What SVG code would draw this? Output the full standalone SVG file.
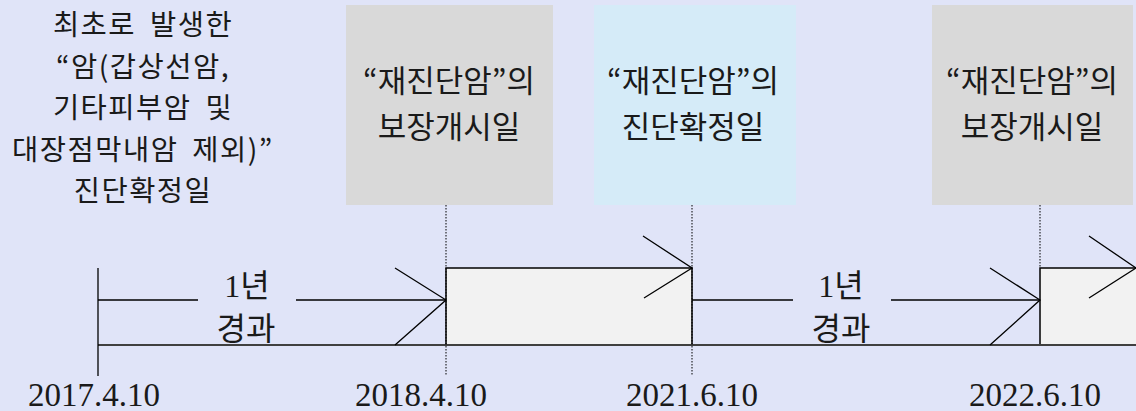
<svg xmlns="http://www.w3.org/2000/svg" width="1136" height="411" viewBox="0 0 1136 411">
<defs>
<style>
.bg{fill:#E0E4F8}
.gray{fill:#D9D9D9}
.blue{fill:#D5EBF8}
.bar{fill:#F2F2F2;stroke:#000;stroke-width:1.5}
.ln{stroke:#000;stroke-width:1.3;fill:none}
.base{stroke:#404040;stroke-width:2;fill:none}
.dot{stroke:#000;stroke-width:1;stroke-dasharray:1.5,1.5;fill:none}
.ko{font-family:"Noto Sans CJK KR","Noto Sans",sans-serif;font-size:31px;fill:#1a1a1a;text-anchor:middle}
.left{font-family:"Noto Sans CJK KR","Noto Sans",sans-serif;font-size:28.5px;letter-spacing:1.5px;fill:#1a1a1a;text-anchor:middle}
.se{font-family:"Liberation Serif","Noto Sans CJK KR",serif;font-size:32px;fill:#1a1a1a;text-anchor:middle}
.dt{font-family:"Liberation Serif",serif;font-size:33px;fill:#1a1a1a;text-anchor:middle}
</style>
</defs>
<rect class="bg" x="0" y="0" width="1136" height="411"/>

<g id="node-first-diagnosis">
<text class="left" x="143" y="35" word-spacing="6">최초로 발생한</text>
<text class="left" x="143" y="76.5">“암(갑상선암,</text>
<text class="left" x="143" y="118" word-spacing="6">기타피부암 및</text>
<text class="left" x="143" y="159.5" word-spacing="6">대장점막내암 제외)”</text>
<text class="left" x="143" y="201">진단확정일</text>
</g>

<g id="node-coverage-start-1">
<rect class="gray" x="346" y="5" width="207" height="200"/>
<text class="ko" x="449" y="92">“재진단암”의</text>
<text class="ko" x="449" y="138">보장개시일</text>
</g>

<g id="node-rediagnosis">
<rect class="blue" x="594" y="5" width="202" height="200"/>
<text class="ko" x="693" y="92">“재진단암”의</text>
<text class="ko" x="693" y="138">진단확정일</text>
</g>

<g id="node-coverage-start-2">
<rect class="gray" x="932" y="5" width="201" height="200"/>
<text class="ko" x="1032" y="92">“재진단암”의</text>
<text class="ko" x="1032" y="138">보장개시일</text>
</g>

<g id="node-bar-1">
<rect class="bar" x="446" y="268" width="246" height="77"/>
</g>
<g id="node-bar-2">
<rect class="bar" x="1040" y="268" width="110" height="77"/>
</g>

<g id="connectors">
<line class="base" x1="98" y1="345" x2="1136" y2="345"/>
<line class="ln" x1="98" y1="268" x2="98" y2="376"/>
<line class="dot" x1="446" y1="205" x2="446" y2="376"/>
<line class="dot" x1="692" y1="205" x2="692" y2="376"/>
<line class="dot" x1="1040" y1="205" x2="1040" y2="268"/>
<line class="ln" x1="98" y1="300" x2="198" y2="300"/>
<line class="ln" x1="296" y1="300" x2="446" y2="300"/>
<polyline class="ln" points="395,268 446,300 395,345"/>
<polyline class="ln" points="643,236 692,268 644,298"/>
<line class="ln" x1="692" y1="300" x2="793" y2="300"/>
<line class="ln" x1="891" y1="300" x2="1040" y2="300"/>
<polyline class="ln" points="990,268 1040,300 990,345"/>
<polyline class="ln" points="1089,236 1136,268 1089,298"/>
</g>

<g id="labels">
<text class="se" x="247" y="297">1년</text>
<text class="se" x="246" y="340">경과</text>
<text class="se" x="841" y="297">1년</text>
<text class="se" x="841" y="340">경과</text>
<text class="dt" x="94" y="406">2017.4.10</text>
<text class="dt" x="421" y="406">2018.4.10</text>
<text class="dt" x="692" y="406">2021.6.10</text>
<text class="dt" x="1035" y="406">2022.6.10</text>
</g>
</svg>
